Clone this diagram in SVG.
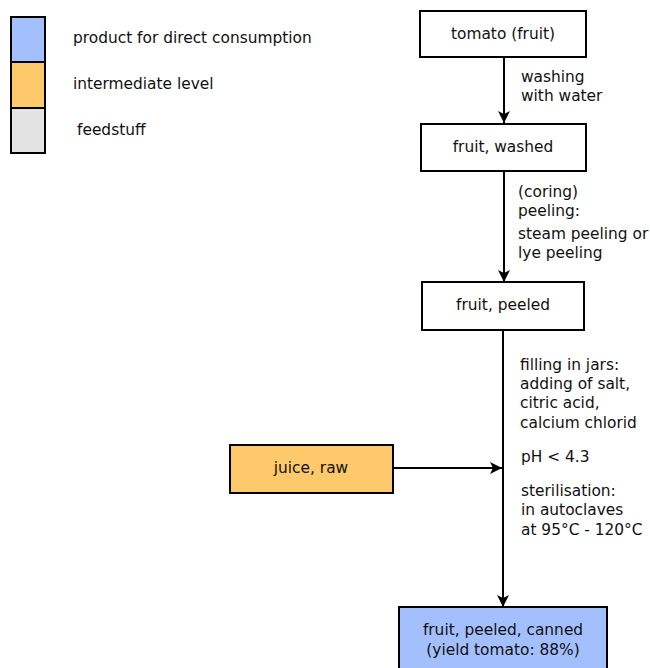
<svg xmlns="http://www.w3.org/2000/svg" width="650" height="668" viewBox="0 0 650 668">
<defs>
<marker id="arr" viewBox="0 0 12 12" refX="12" refY="6" markerWidth="12" markerHeight="12" markerUnits="userSpaceOnUse" orient="auto">
<path d="M0,0 L12,6 L0,12 L3,6 Z" fill="#000"/>
</marker>
<style>
text{font-family:"DejaVu Sans",sans-serif;font-size:15.4px;fill:#111}
.c{text-anchor:middle}
.box{stroke:#000;stroke-width:2}
.w{fill:#fff}.b{fill:#a4bffd}.o{fill:#fdc96a}.g{fill:#e3e3e3}
.con{stroke:#000;stroke-width:2;fill:none;marker-end:url(#arr)}
</style>
</defs>
<g id="legend">
<rect class="box b" x="11" y="17" width="34" height="45"/>
<rect class="box o" x="11" y="62" width="34" height="46"/>
<rect class="box g" x="11" y="108" width="34" height="45"/>
<text x="73" y="43">product for direct consumption</text>
<text x="73" y="89">intermediate level</text>
<text x="77" y="135">feedstuff</text>
</g>
<g id="connectors">
<line class="con" x1="504" y1="57" x2="504" y2="123"/>
<line class="con" x1="504" y1="171" x2="504" y2="282"/>
<line class="con" x1="503" y1="330" x2="503" y2="607"/>
<line class="con" x1="393" y1="468" x2="502" y2="468"/>
<text x="521" y="82">washing</text>
<text x="521" y="101">with water</text>
<text x="518" y="197">(coring)</text>
<text x="518" y="216">peeling:</text>
<text x="518" y="239">steam peeling or</text>
<text x="518" y="258">lye peeling</text>
<text x="520" y="370">filling in jars:</text>
<text x="520" y="389">adding of salt,</text>
<text x="520" y="408">citric acid,</text>
<text x="520" y="428">calcium chlorid</text>
<text x="521" y="462">pH &lt; 4.3</text>
<text x="521" y="496">sterilisation:</text>
<text x="521" y="515">in autoclaves</text>
<text x="521" y="535">at 95°C - 120°C</text>
</g>
<g id="tomato">
<rect class="box w" x="420" y="11" width="166" height="46"/>
<text class="c" x="503" y="39">tomato (fruit)</text>
</g>
<g id="washed">
<rect class="box w" x="421" y="124" width="165" height="47"/>
<text class="c" x="503" y="152">fruit, washed</text>
</g>
<g id="peeled">
<rect class="box w" x="422" y="282" width="162" height="48"/>
<text class="c" x="503" y="310">fruit, peeled</text>
</g>
<g id="juice">
<rect class="box o" x="230" y="445" width="163" height="48"/>
<text class="c" x="311" y="473">juice, raw</text>
</g>
<g id="canned">
<rect class="box b" x="399" y="607" width="208" height="70"/>
<text class="c" x="503" y="635">fruit, peeled, canned</text>
<text class="c" x="503" y="655">(yield tomato: 88%)</text>
</g>
</svg>
